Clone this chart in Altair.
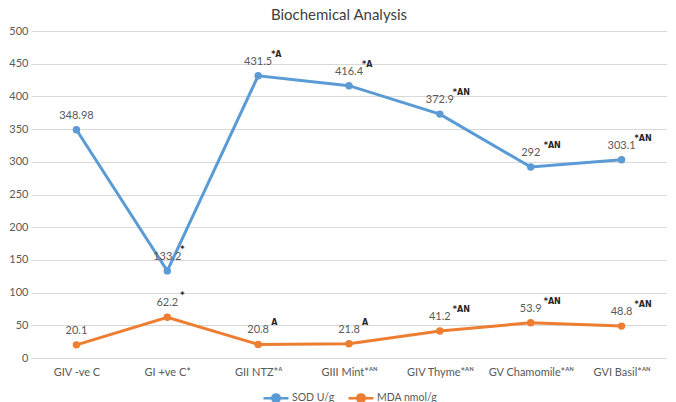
import altair as alt
import pandas as pd

groups = ["GIV -ve C", "GI +ve C*", "GII NTZ*ᴬ", "GIII Mint*ᴬᴺ", "GIV Thyme*ᴬᴺ",
          "GV Chamomile*ᴬᴺ", "GVI Basil*ᴬᴺ"]
series = ["SOD U/g", "MDA nmol/g"]
colors = ["#5B9BD5", "#ED7D31"]
sod = [348.98, 133.2, 431.5, 416.4, 372.9, 292, 303.1]
mda = [20.1, 62.2, 20.8, 21.8, 41.2, 53.9, 48.8]
sod_text = ["348.98", "133.2", "431.5", "416.4", "372.9", "292", "303.1"]
mda_text = ["20.1", "62.2", "20.8", "21.8", "41.2", "53.9", "48.8"]
sod_sig = ["", "*", "*A", "*A", "*AN", "*AN", "*AN"]
mda_sig = ["", "*", "A", "A", "*AN", "*AN", "*AN"]
y_ticks = [0, 50, 100, 150, 200, 250, 300, 350, 400, 450, 500]

rows = []
for s, vals, txt, sig in [(series[0], sod, sod_text, sod_sig), (series[1], mda, mda_text, mda_sig)]:
    for g, v, t, sg in zip(groups, vals, txt, sig):
        rows.append({"Group": g, "Series": s, "Value": v, "Label": t, "Sig": sg})
df = pd.DataFrame(rows)

FONT = "Lato"
GREY = "#595959"

# line + filled circle legend symbol (rings so the circle looks filled)
sym = ("M-1,0L1,0 "
       "M-0.3,0A0.3,0.3 0 1,1 0.3,0A0.3,0.3 0 1,1 -0.3,0 "
       "M-0.18,0A0.18,0.18 0 1,1 0.18,0A0.18,0.18 0 1,1 -0.18,0 "
       "M-0.07,0A0.07,0.07 0 1,1 0.07,0A0.07,0.07 0 1,1 -0.07,0")

legend = alt.Legend(title=None, orient="none", legendX=231, legendY=353,
                    direction="horizontal", symbolType=sym, symbolSize=625,
                    symbolStrokeWidth=2.5, labelFontSize=10.5, labelColor=GREY,
                    labelFont=FONT, columnPadding=8, labelOffset=2)

x = alt.X("Group:N", sort=groups,
          axis=alt.Axis(title=None, labelAngle=0, grid=False, ticks=False, domain=False,
                        labelPadding=8, labelFontSize=11, labelColor=GREY, labelFont=FONT))
y = alt.Y("Value:Q", scale=alt.Scale(domain=[0, 500]),
          axis=alt.Axis(title=None, values=y_ticks, domain=False, ticks=False,
                        labelPadding=3, labelFontSize=11, labelColor=GREY, labelFont=FONT,
                        gridColor="#D9D9D9"))
color = alt.Color("Series:N", scale=alt.Scale(domain=series, range=colors),
                  sort=series, legend=legend)

base = alt.Chart(df)
line = base.mark_line(strokeWidth=3).encode(x=x, y=y, color=color)
pts = base.mark_point(filled=True, size=55, opacity=1).encode(x=x, y=y, color=color)
vals = base.mark_text(dy=-14, fontSize=11, color=GREY, font=FONT).encode(
    x=x, y=y, text="Label:N")
sigs = base.mark_text(align="left", dx=13, dy=-21, fontSize=8, fontWeight="bold",
                      color="#262626", font="DejaVu Sans").encode(x=x, y=y, text="Sig:N")

chart = alt.layer(line, pts, vals, sigs).properties(
    width=636, height=327,
    padding={"left": 0, "right": 0, "top": 0, "bottom": 0},
    title=alt.TitleParams("Biochemical Analysis", fontSize=15, font=FONT,
                          fontWeight="normal", color="#404040", anchor="middle",
                          offset=2, dx=-10),
).configure_view(stroke=None)

chart.save("out.html", embed_options={"renderer": "svg", "actions": False})
